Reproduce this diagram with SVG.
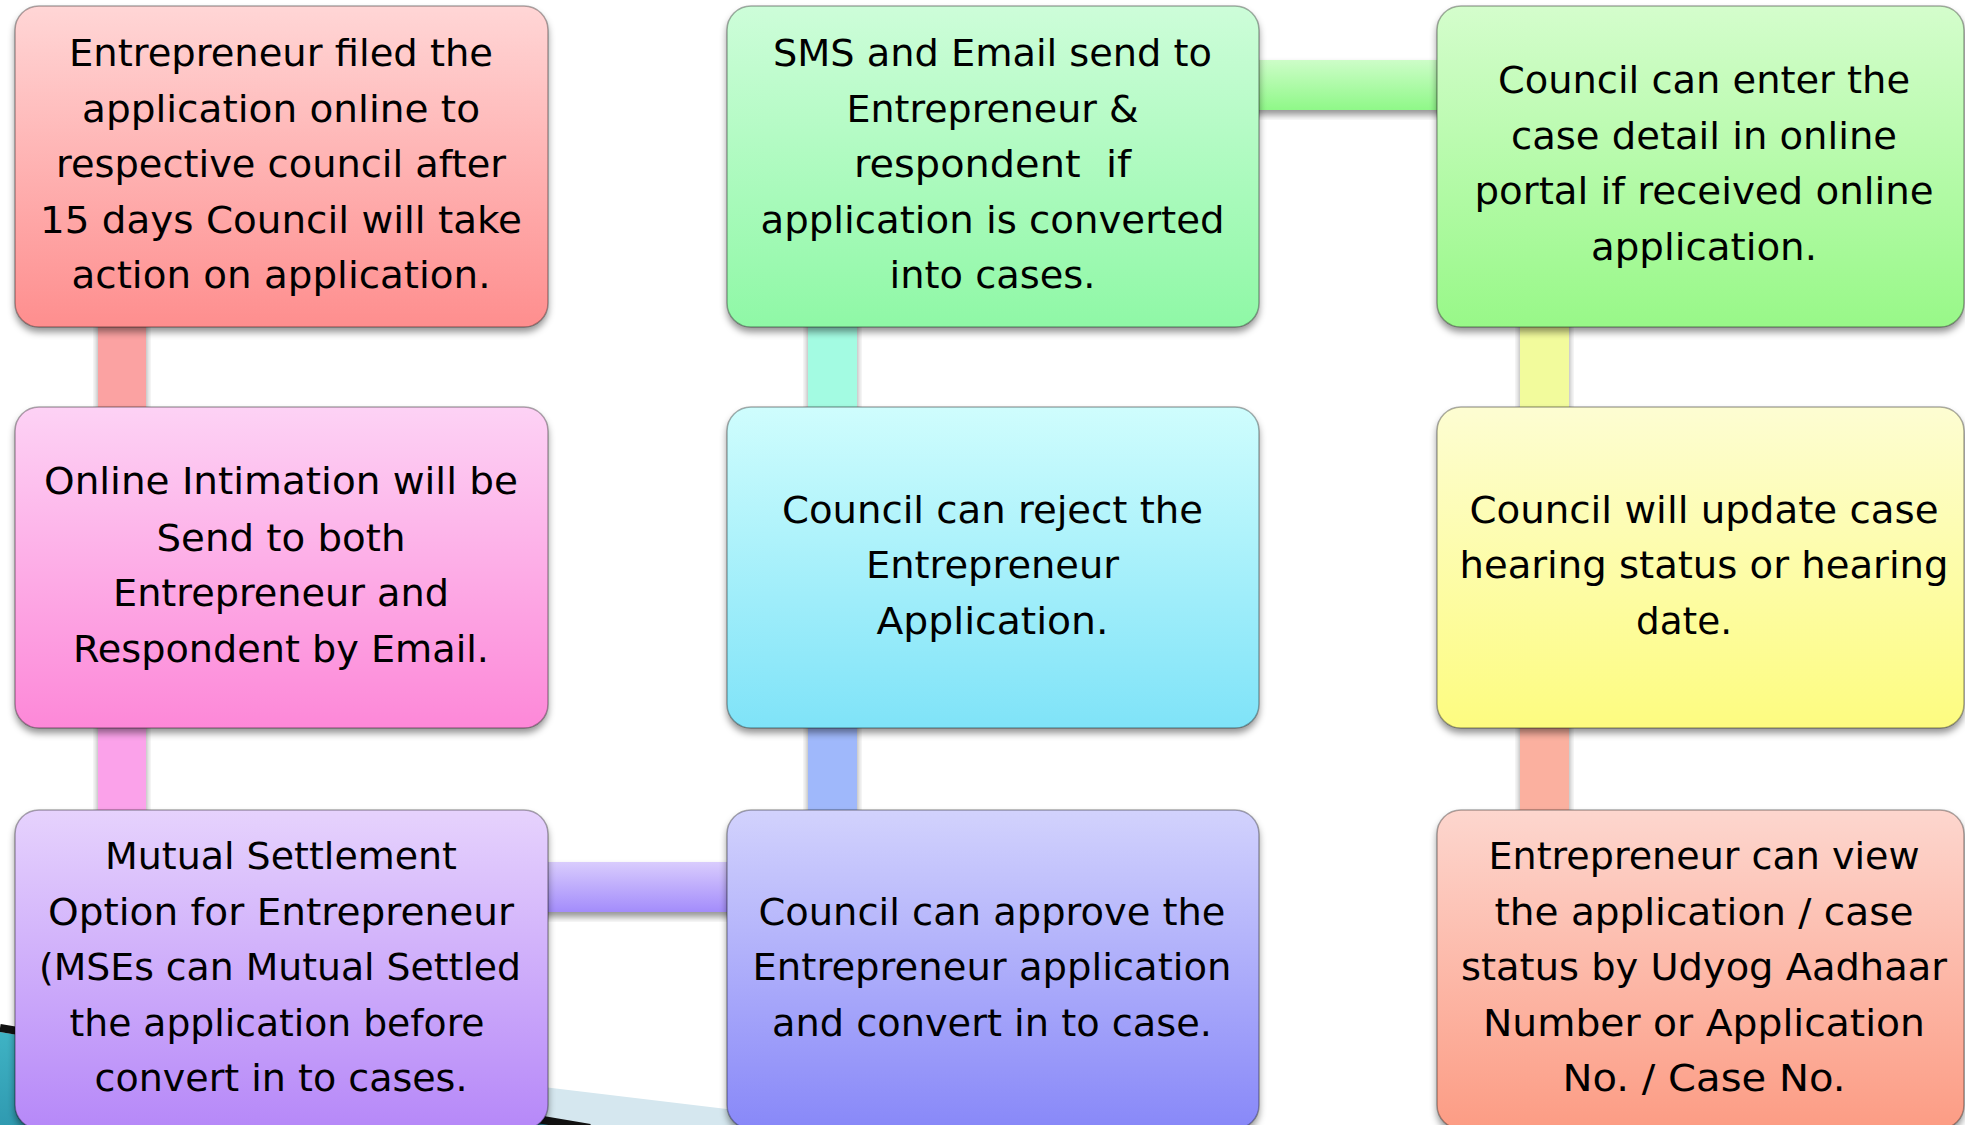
<svg xmlns="http://www.w3.org/2000/svg" width="1965" height="1125" viewBox="0 0 1965 1125">
  <defs>
    <style>
      .box { stroke: #000; stroke-opacity: 0.32; stroke-width: 1.5; filter: url(#shadow); }
      .bar { filter: url(#shadow); }
      text { font-family: "DejaVu Sans", "Liberation Sans", sans-serif; font-size: 38px; fill: #000; text-anchor: middle; }
    </style>
    <filter id="shadow" x="-10%" y="-10%" width="120%" height="130%">
      <feDropShadow dx="0" dy="5" stdDeviation="3.5" flood-color="#000" flood-opacity="0.42"/>
    </filter>
    <linearGradient id="gRed" x1="0" y1="0" x2="0" y2="1"><stop offset="0" stop-color="#ffd6d6"/><stop offset="1" stop-color="#fe8e8e"/></linearGradient>
    <linearGradient id="gMint" x1="0" y1="0" x2="0" y2="1"><stop offset="0" stop-color="#cdfdd9"/><stop offset="1" stop-color="#8ff8a6"/></linearGradient>
    <linearGradient id="gGreen" x1="0" y1="0" x2="0" y2="1"><stop offset="0" stop-color="#d4fdcc"/><stop offset="1" stop-color="#98f888"/></linearGradient>
    <linearGradient id="gPink" x1="0" y1="0" x2="0" y2="1"><stop offset="0" stop-color="#fdd2f5"/><stop offset="1" stop-color="#fd88d8"/></linearGradient>
    <linearGradient id="gCyan" x1="0" y1="0" x2="0" y2="1"><stop offset="0" stop-color="#cffdfd"/><stop offset="1" stop-color="#7fe3f8"/></linearGradient>
    <linearGradient id="gYellow" x1="0" y1="0" x2="0" y2="1"><stop offset="0" stop-color="#fdfdd2"/><stop offset="1" stop-color="#fdfc80"/></linearGradient>
    <linearGradient id="gLilac" x1="0" y1="0" x2="0" y2="1"><stop offset="0" stop-color="#e6d2fd"/><stop offset="1" stop-color="#b688f8"/></linearGradient>
    <linearGradient id="gPeri" x1="0" y1="0" x2="0" y2="1"><stop offset="0" stop-color="#d2d2fd"/><stop offset="1" stop-color="#8888f8"/></linearGradient>
    <linearGradient id="gCoral" x1="0" y1="0" x2="0" y2="1"><stop offset="0" stop-color="#fdd6ce"/><stop offset="1" stop-color="#fc9c84"/></linearGradient>
    <linearGradient id="gBarGreen" x1="0" y1="0" x2="0" y2="1"><stop offset="0" stop-color="#cdfdc8"/><stop offset="1" stop-color="#8ff888"/></linearGradient>
    <linearGradient id="gBarLilac" x1="0" y1="0" x2="0" y2="1"><stop offset="0" stop-color="#d9ccfd"/><stop offset="1" stop-color="#a38cfb"/></linearGradient>
    <linearGradient id="gTeal" x1="0" y1="0" x2="1" y2="1"><stop offset="0" stop-color="#3fb3c4"/><stop offset="1" stop-color="#1f7f9c"/></linearGradient>
  </defs>

  <rect width="1965" height="1125" fill="#ffffff"/>

  <!-- background swoosh in the lower left corner -->
  <g id="backdrop">
    <polygon points="300,1058 760,1113 760,1125 300,1125" fill="#d5e7ef"/>
    <polygon points="0,1032 590,1130 0,1130" fill="url(#gTeal)"/>
    <line x1="0" y1="1028" x2="590" y2="1128" stroke="#111" stroke-width="8"/>
  </g>

  <!-- connector bars -->
  <g id="connectors">
    <rect class="bar" x="98" y="315" width="48" height="100" fill="#fba2a2"/>
    <rect class="bar" x="98" y="715" width="48" height="100" fill="#fba2ea"/>
    <rect class="bar" x="540" y="862" width="195" height="50" fill="url(#gBarLilac)"/>
    <rect class="bar" x="808" y="715" width="49" height="100" fill="#9fb8fb"/>
    <rect class="bar" x="808" y="315" width="49" height="100" fill="#a3fbe2"/>
    <rect class="bar" x="1250" y="60" width="195" height="50" fill="url(#gBarGreen)"/>
    <rect class="bar" x="1520" y="315" width="49" height="100" fill="#f2fb9c"/>
    <rect class="bar" x="1520" y="715" width="49" height="100" fill="#fbb09f"/>
  </g>

  <g id="node-filed">
    <rect class="box" x="15" y="6" width="533" height="321" rx="24" fill="url(#gRed)"/>
    <text x="281" y="66" textLength="424" lengthAdjust="spacingAndGlyphs">Entrepreneur filed the</text>
    <text x="281" y="122" textLength="398" lengthAdjust="spacingAndGlyphs">application online to</text>
    <text x="281" y="177" textLength="450" lengthAdjust="spacingAndGlyphs">respective council after</text>
    <text x="281" y="233" textLength="482" lengthAdjust="spacingAndGlyphs">15 days Council will take</text>
    <text x="281" y="288" textLength="419" lengthAdjust="spacingAndGlyphs">action on application.</text>
  </g>

  <g id="node-sms">
    <rect class="box" x="727" y="6" width="532" height="321" rx="24" fill="url(#gMint)"/>
    <text x="992.5" y="66" textLength="439" lengthAdjust="spacingAndGlyphs">SMS and Email send to</text>
    <text x="992.5" y="122" textLength="292" lengthAdjust="spacingAndGlyphs">Entrepreneur &amp;</text>
    <text x="992.5" y="177" textLength="277" lengthAdjust="spacingAndGlyphs" xml:space="preserve">respondent  if</text>
    <text x="992.5" y="233" textLength="464" lengthAdjust="spacingAndGlyphs">application is converted</text>
    <text x="992.5" y="288" textLength="206" lengthAdjust="spacingAndGlyphs">into cases.</text>
  </g>

  <g id="node-enter">
    <rect class="box" x="1437" y="6" width="527" height="321" rx="24" fill="url(#gGreen)"/>
    <text x="1704" y="93" textLength="412" lengthAdjust="spacingAndGlyphs">Council can enter the</text>
    <text x="1704" y="149" textLength="386" lengthAdjust="spacingAndGlyphs">case detail in online</text>
    <text x="1704" y="204" textLength="459" lengthAdjust="spacingAndGlyphs">portal if received online</text>
    <text x="1704" y="260" textLength="226" lengthAdjust="spacingAndGlyphs">application.</text>
  </g>

  <g id="node-intimation">
    <rect class="box" x="15" y="407" width="533" height="321" rx="24" fill="url(#gPink)"/>
    <text x="281" y="494" textLength="474" lengthAdjust="spacingAndGlyphs">Online Intimation will be</text>
    <text x="281" y="551" textLength="249" lengthAdjust="spacingAndGlyphs">Send to both</text>
    <text x="281" y="606" textLength="336" lengthAdjust="spacingAndGlyphs">Entrepreneur and</text>
    <text x="281" y="662" textLength="416" lengthAdjust="spacingAndGlyphs">Respondent by Email.</text>
  </g>

  <g id="node-reject">
    <rect class="box" x="727" y="407" width="532" height="321" rx="24" fill="url(#gCyan)"/>
    <text x="992.5" y="523" textLength="421" lengthAdjust="spacingAndGlyphs">Council can reject the</text>
    <text x="992.5" y="578" textLength="253" lengthAdjust="spacingAndGlyphs">Entrepreneur</text>
    <text x="992.5" y="634" textLength="232" lengthAdjust="spacingAndGlyphs">Application.</text>
  </g>

  <g id="node-hearing">
    <rect class="box" x="1437" y="407" width="527" height="321" rx="24" fill="url(#gYellow)"/>
    <text x="1704" y="523" textLength="469" lengthAdjust="spacingAndGlyphs">Council will update case</text>
    <text x="1704" y="578" textLength="489" lengthAdjust="spacingAndGlyphs">hearing status or hearing</text>
    <text x="1684" y="634" textLength="96" lengthAdjust="spacingAndGlyphs">date.</text>
  </g>

  <g id="node-settlement">
    <rect class="box" x="15" y="810" width="533" height="319" rx="24" fill="url(#gLilac)"/>
    <text x="281" y="869" textLength="352" lengthAdjust="spacingAndGlyphs">Mutual Settlement</text>
    <text x="281" y="925" textLength="466" lengthAdjust="spacingAndGlyphs">Option for Entrepreneur</text>
    <text x="280" y="980" textLength="482" lengthAdjust="spacingAndGlyphs">(MSEs can Mutual Settled</text>
    <text x="277" y="1036" textLength="415" lengthAdjust="spacingAndGlyphs">the application before</text>
    <text x="281" y="1091" textLength="373" lengthAdjust="spacingAndGlyphs">convert in to cases.</text>
  </g>

  <g id="node-approve">
    <rect class="box" x="727" y="810" width="532" height="319" rx="24" fill="url(#gPeri)"/>
    <text x="992" y="925" textLength="467" lengthAdjust="spacingAndGlyphs">Council can approve the</text>
    <text x="992" y="980" textLength="479" lengthAdjust="spacingAndGlyphs">Entrepreneur application</text>
    <text x="992" y="1036" textLength="440" lengthAdjust="spacingAndGlyphs">and convert in to case.</text>
  </g>

  <g id="node-status">
    <rect class="box" x="1437" y="810" width="527" height="319" rx="24" fill="url(#gCoral)"/>
    <text x="1704" y="869" textLength="431" lengthAdjust="spacingAndGlyphs">Entrepreneur can view</text>
    <text x="1704" y="925" textLength="419" lengthAdjust="spacingAndGlyphs">the application / case</text>
    <text x="1704" y="980" textLength="486" lengthAdjust="spacingAndGlyphs">status by Udyog Aadhaar</text>
    <text x="1704" y="1036" textLength="442" lengthAdjust="spacingAndGlyphs">Number or Application</text>
    <text x="1704" y="1091" textLength="283" lengthAdjust="spacingAndGlyphs">No. / Case No.</text>
  </g>
</svg>
